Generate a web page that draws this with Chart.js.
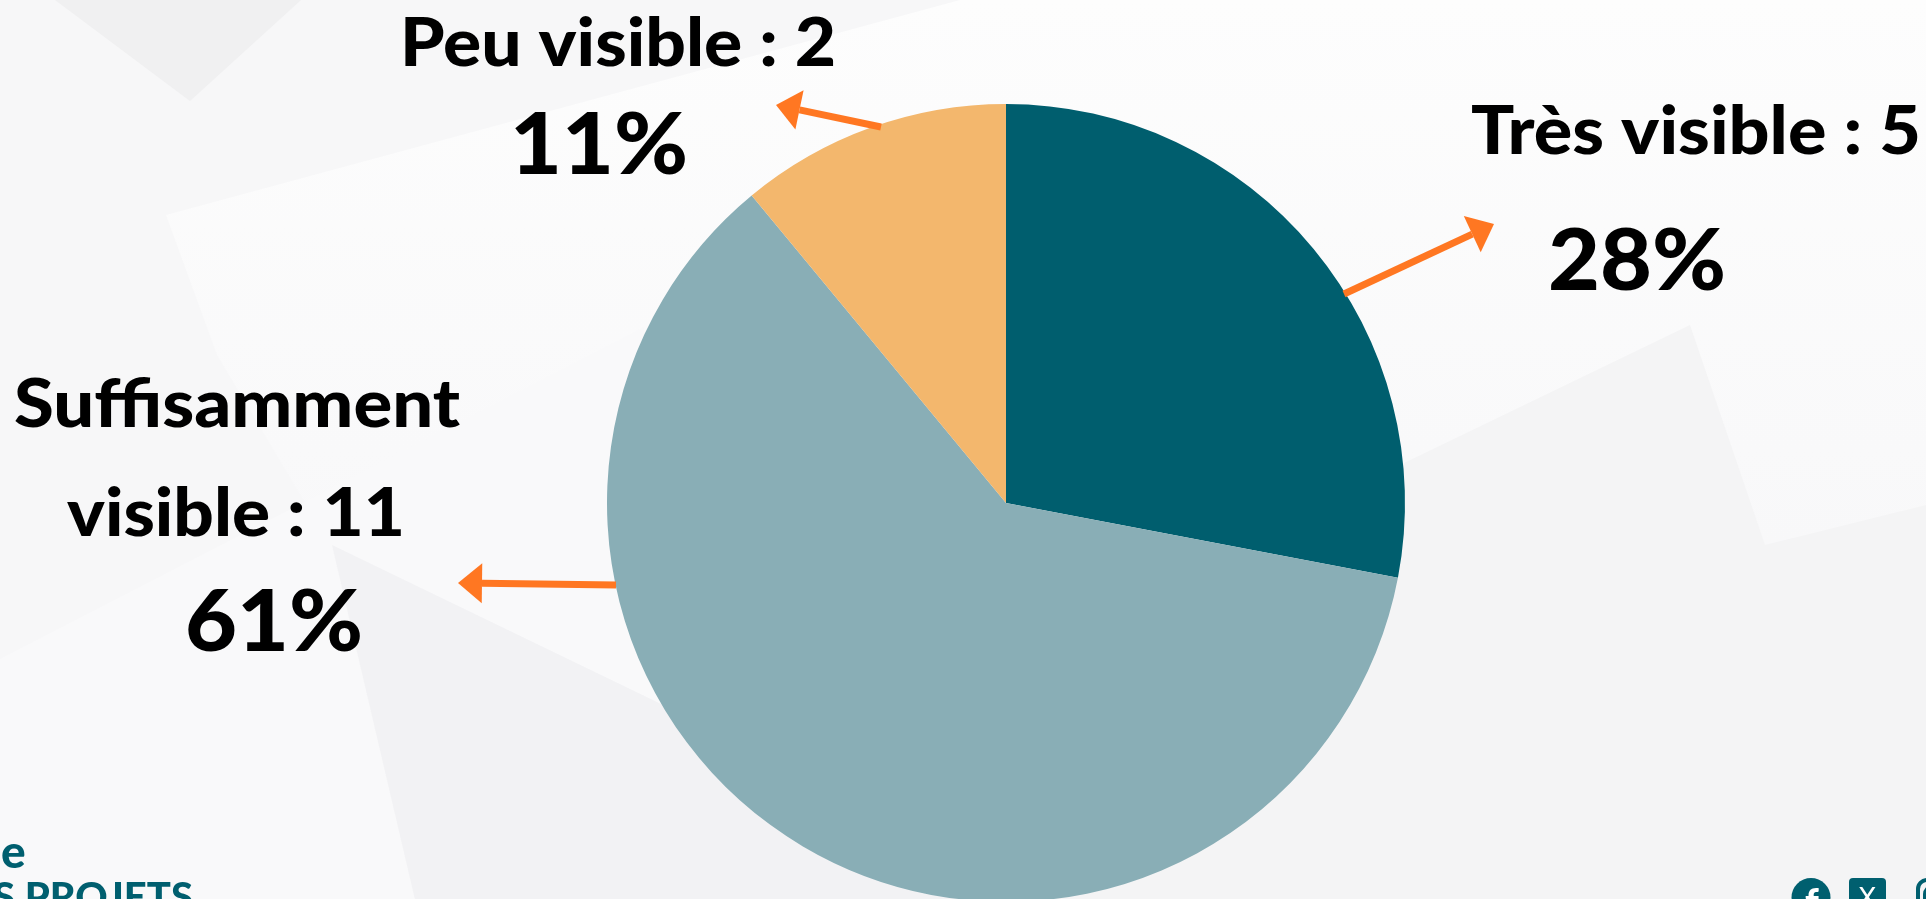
<!DOCTYPE html>
<html lang="fr">
<head>
<meta charset="utf-8">
<title>Visibilité</title>
<script src="https://cdn.jsdelivr.net/npm/chart.js@4/dist/chart.umd.min.js"></script>
<style>
  html, body { margin: 0; padding: 0; width: 1926px; height: 899px; overflow: hidden; background: #f6f6f7; }
  canvas { display: block; }
</style>
</head>
<body>
<canvas id="pieChart" width="1926" height="910"></canvas>
<script>
const categories = ["Très visible", "Suffisamment visible", "Peu visible"];
const counts = [5, 11, 2];
const percentValues = [28, 61, 11];
const sliceColors = ["#005e6e", "#89aeb6", "#f3b76d"];

const TEAL = "#005f6f";
const ARROW = "#ff7722";
const FONT = "Lato, sans-serif";

// label lines: text, centre x, baseline y, size, width in the picture
const labelLines = [
  { text: "Peu visible : " + counts[2], x: 618, y: 66, size: 66, w: 436 },
  { text: percentValues[2] + "%", x: 599, y: 174, size: 86, w: 178 },
  { text: "Très visible : " + counts[0], x: 1696, y: 154, size: 66, w: 450 },
  { text: percentValues[0] + "%", x: 1637, y: 290, size: 86, w: 178 },
  { text: "Suffisamment", x: 237, y: 427, size: 66, w: 446 },
  { text: "visible : " + counts[1], x: 236, y: 536, size: 66, w: 338 },
  { text: percentValues[1] + "%", x: 274, y: 651, size: 86, w: 178 },
];

// arrows from the slice edge to the tip
const arrows = [
  { from: [881, 127], to: [776, 105] },
  { from: [1344, 294], to: [1494, 224] },
  { from: [616, 585], to: [458, 583] },
];

// background shards of the slide
const shards = [
  { c: "#f7f7f8", p: [[0, 0], [960, 0], [166, 215], [217, 355], [330, 545], [0, 659]] },
  { c: "#f0f0f1", p: [[55, 0], [190, 101], [301, 0]] },
  { c: "#f9f9fa", p: [[0, 659], [644, 327], [663, 705], [332, 545], [415, 899], [0, 899]] },
  { c: "#f2f2f4", p: [[332, 545], [663, 705], [1000, 899], [415, 899]] },
  { c: "#f4f4f5", p: [[1690, 325], [1402, 464], [1000, 640], [1000, 899], [1926, 899], [1926, 505], [1765, 545]] },
];

const slideBackground = {
  id: "slideBackground",
  beforeDraw(chart) {
    const { ctx, width, height } = chart;
    ctx.save();
    const g = ctx.createLinearGradient(0, 0, 0, 899);
    g.addColorStop(0, "#fdfdfd");
    g.addColorStop(0.5, "#f9f9fa");
    g.addColorStop(1, "#f4f4f6");
    ctx.fillStyle = g;
    ctx.fillRect(0, 0, width, height);
    shards.forEach((s) => {
      ctx.fillStyle = s.c;
      ctx.beginPath();
      s.p.forEach((pt, i) => (i ? ctx.lineTo(pt[0], pt[1]) : ctx.moveTo(pt[0], pt[1])));
      ctx.closePath();
      ctx.fill();
    });
    ctx.restore();
  },
};

function drawArrow(ctx, a) {
  const ang = Math.atan2(a.to[1] - a.from[1], a.to[0] - a.from[0]);
  const headLen = 24, headHalf = 20;
  const bx = a.to[0] - Math.cos(ang) * headLen;
  const by = a.to[1] - Math.sin(ang) * headLen;
  ctx.strokeStyle = ARROW;
  ctx.lineWidth = 7;
  ctx.beginPath();
  ctx.moveTo(a.from[0], a.from[1]);
  ctx.lineTo(bx, by);
  ctx.stroke();
  ctx.fillStyle = ARROW;
  ctx.beginPath();
  ctx.moveTo(a.to[0], a.to[1]);
  ctx.lineTo(bx - Math.sin(ang) * headHalf, by + Math.cos(ang) * headHalf);
  ctx.lineTo(bx + Math.sin(ang) * headHalf, by - Math.cos(ang) * headHalf);
  ctx.closePath();
  ctx.fill();
}

// stretch a centred line to the width it has in the picture
function fitText(ctx, l) {
  ctx.font = "900 " + l.size + "px " + FONT;
  const k = l.w / ctx.measureText(l.text).width;
  ctx.save();
  ctx.translate(l.x, l.y);
  ctx.scale(k, 1);
  ctx.fillText(l.text, 0, 0);
  ctx.restore();
}

const annotations = {
  id: "annotations",
  afterDraw(chart) {
    const ctx = chart.ctx;
    ctx.save();
    arrows.forEach((a) => drawArrow(ctx, a));

    ctx.fillStyle = "#000";
    ctx.textAlign = "center";
    ctx.textBaseline = "alphabetic";
    labelLines.forEach((l) => fitText(ctx, l));

    // cut off logo, bottom left
    ctx.fillStyle = TEAL;
    ctx.textAlign = "left";
    ctx.font = "900 46px " + FONT;
    ctx.fillText("e", 1, 868);
    ctx.textAlign = "right";
    ctx.font = "900 40px " + FONT;
    ctx.fillText("NOS PROJETS", 193, 911);

    // social icons, bottom right
    ctx.beginPath();
    ctx.arc(1811, 897.5, 19.5, 0, Math.PI * 2);
    ctx.fill();
    ctx.beginPath();
    ctx.roundRect(1849, 878, 37, 40, 4);
    ctx.fill();
    ctx.strokeStyle = TEAL;
    ctx.lineWidth = 4;
    ctx.beginPath();
    ctx.roundRect(1918, 880, 36, 36, 9);
    ctx.stroke();
    ctx.beginPath();
    ctx.roundRect(1925, 887, 22, 22, 7);
    ctx.stroke();
    ctx.fillStyle = "#fff";
    ctx.textAlign = "center";
    ctx.font = "900 38px " + FONT;
    ctx.fillText("f", 1812, 916);
    ctx.font = "400 28px 'DejaVu Sans', sans-serif";
    ctx.fillText("X", 1867, 908);
    ctx.restore();
  },
};

new Chart(document.getElementById("pieChart").getContext("2d"), {
  type: "pie",
  data: {
    labels: categories,
    datasets: [
      {
        data: percentValues,
        backgroundColor: sliceColors,
        borderWidth: 0,
      },
    ],
  },
  options: {
    responsive: false,
    animation: false,
    layout: { padding: { top: 104, bottom: 8, left: 607, right: 521 } },
    plugins: {
      legend: { display: false },
      tooltip: { enabled: false },
    },
  },
  plugins: [slideBackground, annotations],
});
</script>
</body>
</html>
